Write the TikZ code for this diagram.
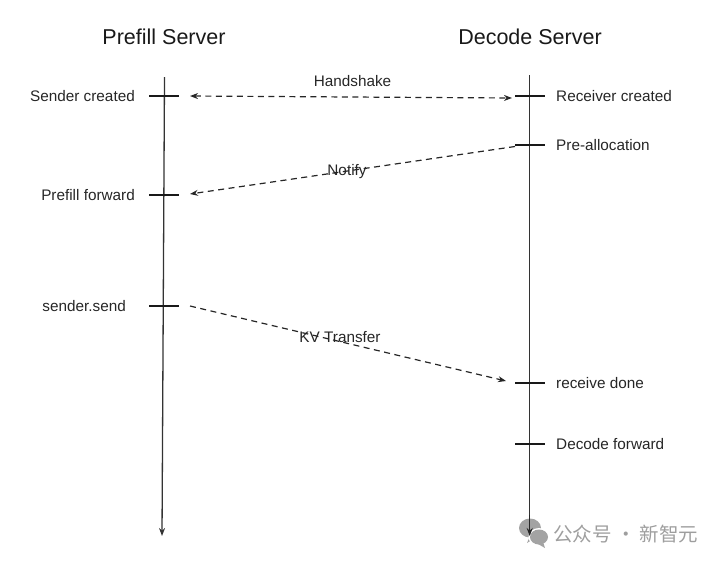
\documentclass[tikz,border=0pt]{standalone}
\usepackage{fontspec}
\setmainfont{Liberation Sans}
\newfontfamily\cjkfont{Noto Sans CJK SC}
\usetikzlibrary{arrows.meta}

\tikzset{
    title/.style={font=\fontsize{21.5}{24}\selectfont, text=black!90},
    lefttext/.style={anchor=east, inner sep=0pt, font=\fontsize{15.3}{18}\selectfont, text=black!85},
    righttext/.style={anchor=west, inner sep=0pt, font=\fontsize{15.3}{18}\selectfont, text=black!85},
    msgtext/.style={font=\fontsize{15.3}{18}\selectfont, text=black!85},
    tick/.style={line width=2.4pt, black!90},
    lifeline/.style={line width=1.3pt, black!80, -{Stealth[length=8pt,width=6pt]}},
    msg/.style={line width=1.2pt, black!85, dash pattern=on 6pt off 4.5pt, -{Stealth[length=8pt,width=6pt]}},
    chat/.style={fill=black!36, draw=none},
}

\begin{document}
\begin{tikzpicture}[x=1pt,y=-1pt]

    \useasboundingbox (0,0) rectangle (720,563);

    \coordinate (ptop) at (164.5,77);
    \coordinate (pend) at (162,536);
    \coordinate (dtop) at (529.7,75);
    \coordinate (dend) at (529.7,536);

    \draw[lifeline] (ptop) -- (pend);
    \draw[lifeline] (dtop) -- (dend);

    \node[title] (ptitle) at (164,37) {Prefill Server};
    \node[title] (dtitle) at (530,37) {Decode Server};

    % ticks on the prefill side
    \foreach \name/\y in {sc/96, pf/195, ss/306} {
        \coordinate (\name l) at (149,\y);
        \coordinate (\name r) at (179,\y);
        \draw[tick] (\name l) -- (\name r);
    }

    % ticks on the decode side
    \foreach \name/\y in {rc/96, pa/145, rd/383, df/444} {
        \coordinate (\name l) at (515,\y);
        \coordinate (\name r) at (545,\y);
        \draw[tick] (\name l) -- (\name r);
    }

    \node[lefttext] (sc) at (135,96) {Sender created};
    \node[lefttext] (pf) at (135,195) {Prefill forward};
    \node[lefttext] (ss) at (126,306) {sender.send};

    \node[righttext] (rc) at (556,96) {Receiver created};
    \node[righttext] (pa) at (556,145) {Pre-allocation};
    \node[righttext] (rd) at (556,383) {receive done};
    \node[righttext] (df) at (556,444) {Decode forward};

    \coordinate (hs1) at (190,96);
    \coordinate (hs2) at (512,98);
    \coordinate (no1) at (515,146.5);
    \coordinate (no2) at (190,194);
    \coordinate (kv1) at (190,306);
    \coordinate (kv2) at (506,381);

    \draw[msg, {Stealth[length=8pt,width=6pt]}-{Stealth[length=8pt,width=6pt]}] (hs1) -- (hs2);
    \draw[msg] (no1) -- (no2);
    \draw[msg] (kv1) -- (kv2);

    \node[msgtext] (hs) at (352.5,81) {Handshake};
    \node[msgtext] (no) at (347,172) {Notify};
    \node[msgtext] (kv) at (340,337) {KV Transfer};

    % watermark
    \fill[chat] (530,528) ellipse (11pt and 9.5pt);
    \fill[chat] (530,536) -- (527,543) -- (535,538) -- cycle;
    \fill[white] (539,537) ellipse (10.5pt and 9pt);
    \fill[chat] (539,537) ellipse (9pt and 7.5pt);
    \fill[chat] (543,542) -- (545,548) -- (538,544) -- cycle;
    \draw[line width=1.3pt, black!85, -{Stealth[length=8pt,width=6pt]}] (529.7,515) -- (dend);

    \node[anchor=west, inner sep=0pt, text=black!38, font=\fontsize{19.5}{22}\selectfont\cjkfont] (wm) at (553,534) {公众号 · 新智元};

\end{tikzpicture}
\end{document}
